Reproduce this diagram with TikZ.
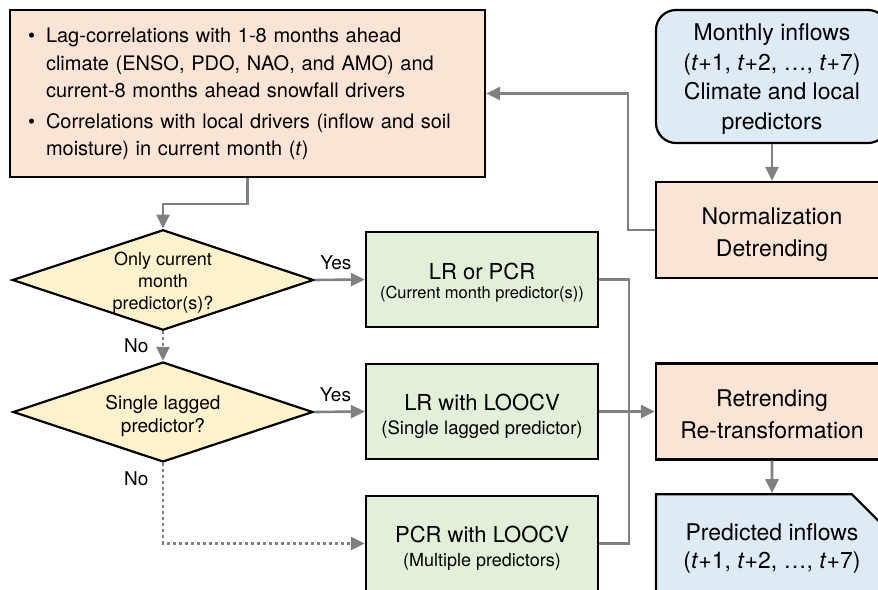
\documentclass[tikz,border=0pt]{standalone}
\usepackage{fontspec}
\setmainfont{TeX Gyre Heros}
\usetikzlibrary{arrows.meta,shapes.geometric,shapes.misc}
\definecolor{peach}{HTML}{FBE4D5}
\definecolor{leaf}{HTML}{E2EFD9}
\definecolor{sand}{HTML}{FFF2CC}
\definecolor{sky}{HTML}{DEEAF6}
\definecolor{wire}{HTML}{808080}
\newcommand{\lift}[1]{\rule{0pt}{#1}}

\begin{document}
\begin{tikzpicture}[x=1pt,y=-1pt,>={Triangle[length=14pt,width=13pt]},
                    node distance=132pt]
  \tikzstyle{base}=[draw=black,line width=2.2pt,align=center,inner sep=0pt]
  \tikzstyle{prep}=[base,fill=peach,minimum width=232pt,minimum height=96pt,
                    font=\fontsize{23}{32}\selectfont]
  \tikzstyle{model}=[base,fill=leaf,minimum width=232pt,minimum height=95pt,
                     font=\fontsize{22}{24}\selectfont]
  \tikzstyle{test}=[base,fill=sand,diamond,aspect=3,minimum width=300pt,
                    minimum height=100pt]
  \tikzstyle{flow}=[draw=wire,line width=2.6pt]
  \tikzstyle{maybe}=[flow,dash pattern=on 3pt off 3pt]
  \tikzstyle{tag}=[font=\fontsize{19}{19}\selectfont]

  \useasboundingbox (0,0) rectangle (878,589);
  \clip (0,0) rectangle (878,589);

  % predictor screening
  \node[base,fill=peach,minimum width=475pt,minimum height=167pt,
        text width=439pt,align=left,font=\fontsize{20}{27.5}\selectfont]
        (corr) at (247.5,93.5)
        {\begin{tabular}{@{}l@{\hspace{11pt}}l@{}}
         \textbullet & Lag-correlations with 1-8 months ahead\\
                     & climate (ENSO, PDO, NAO, and AMO) and\\
                     & current-8 months ahead snowfall drivers\\[3pt]
         \textbullet & Correlations with local drivers (inflow and soil\\
                     & moisture) in current month (\textit{t})
         \end{tabular}};

  % decisions
  \node[test,font=\fontsize{18}{22}\selectfont] (q1) at (163,280)
        {\lift{19pt}Only current\\month\\predictor(s)?};
  \node[test,font=\fontsize{19}{23}\selectfont] (q2) [below of=q1]
        {\lift{22pt}Single lagged\\predictor?};

  % models
  \node[model] (lr1) at (482,279.5)
        {\lift{23pt}LR or PCR\\[-5pt]{\fontsize{16.5}{20}\selectfont (Current month predictor(s))}};
  \node[model] (lr2) [below of=lr1]
        {\lift{26pt}LR with LOOCV\\{\fontsize{18.5}{20}\selectfont (Single lagged predictor)}};
  \node[model] (lr3) [below of=lr2]
        {\lift{26pt}PCR with LOOCV\\{\fontsize{18}{20}\selectfont (Multiple predictors)}};

  % data in and out
  \node[base,fill=sky,rounded corners=20pt,minimum width=232pt,minimum height=133pt,
        font=\fontsize{23}{29.5}\selectfont] (inflow) at (772,76.5)
        {\lift{22.5pt}Monthly inflows\\(\textit{t}+1, \textit{t}+2, \dots, \textit{t}+7)\\Climate and local\\predictors};
  \node[prep] (norm) at (772,230) {\lift{26.5pt}Normalization\\Detrending};
  \node[prep] (retr) at (772,411.5) {\lift{22.5pt}Retrending\\Re-transformation};
  \node[base,fill=sky,chamfered rectangle,chamfered rectangle corners=north east,
        chamfered rectangle xsep=18pt,chamfered rectangle ysep=18pt,
        minimum width=232pt,minimum height=96pt,
        font=\fontsize{23}{28}\selectfont] (pred) at (772,543)
        {\lift{28.5pt}Predicted inflows\\(\textit{t}+1, \textit{t}+2, \dots, \textit{t}+7)};

  \draw[flow,->] (inflow) -- (norm);
  \draw[flow,->] (norm.west) -- ++(-27,0) |- (corr.east);
  \draw[flow,->] (corr.south) -- ++(0,26) -| (q1.north);
  \draw[flow,->] (q1.east) -- node[tag,above,xshift=-4pt,yshift=5pt] {Yes} (lr1.west);
  \draw[flow,->] (q2.east) -- node[tag,above,xshift=-4pt,yshift=5pt] {Yes} (lr2.west);
  \draw[maybe,->] (q1.south) -- node[tag,left,xshift=-10pt] {No} (q2.north);
  \draw[maybe,->] (q2.south) |- node[tag,left,xshift=-10pt,pos=0.1] {No} (lr3.west);
  \draw[flow] (lr1.east) -- ++(30,0) |- (lr3.east);
  \draw[flow,->] (lr2.east) -- (retr.west);
  \draw[flow,->] (retr) -- (pred);
\end{tikzpicture}
\end{document}
